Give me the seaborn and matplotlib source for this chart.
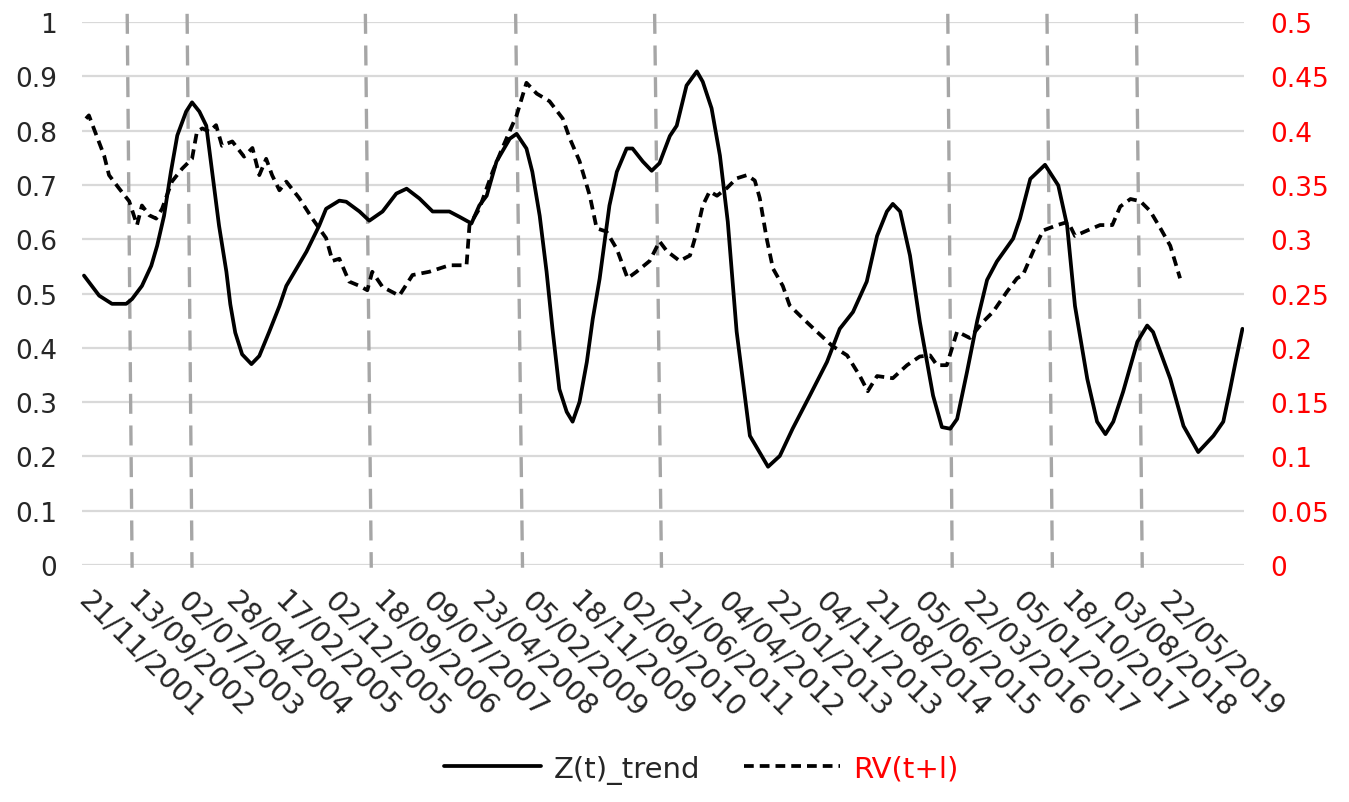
import matplotlib
matplotlib.use("Agg")
import matplotlib.pyplot as plt
import matplotlib.transforms as mtransforms
import seaborn as sns
from matplotlib.lines import Line2D

# x positions are in units of the date-label spacing (label k sits at x = k)
date_labels = [
    "21/11/2001", "13/09/2002", "02/07/2003", "28/04/2004", "17/02/2005",
    "02/12/2005", "18/09/2006", "09/07/2007", "23/04/2008", "05/02/2009",
    "18/11/2009", "02/09/2010", "21/06/2011", "04/04/2012", "22/01/2013",
    "04/11/2013", "21/08/2014", "05/06/2015", "22/03/2016", "05/01/2017",
    "18/10/2017", "03/08/2018", "22/05/2019",
]

z_x = [0.04, 0.35, 0.61, 0.90, 1.02, 1.22, 1.41, 1.53, 1.67, 1.81, 1.94, 2.12,
       2.24, 2.39, 2.53, 2.65, 2.79, 2.94, 3.02, 3.12, 3.26, 3.45, 3.61, 3.81,
       4.02, 4.16, 4.57, 4.83, 4.97, 5.24, 5.38, 5.65, 5.85, 6.12, 6.40, 6.61,
       6.87, 7.14, 7.48, 7.69, 7.93, 8.09, 8.24, 8.44, 8.71, 8.85, 9.05, 9.17,
       9.32, 9.46, 9.58, 9.72, 9.87, 9.99, 10.13, 10.28, 10.40, 10.54, 10.74,
       10.89, 11.09, 11.21, 11.42, 11.60, 11.76, 11.97, 12.11, 12.31, 12.52,
       12.64, 12.82, 12.99, 13.15, 13.33, 13.60, 13.97, 14.21, 14.47, 14.82,
       15.17, 15.43, 15.70, 15.98, 16.19, 16.39, 16.51, 16.66, 16.86, 17.06,
       17.33, 17.51, 17.68, 17.82, 18.02, 18.23, 18.43, 18.63, 18.96, 19.10,
       19.31, 19.61, 19.88, 20.06, 20.22, 20.47, 20.67, 20.84, 21.00, 21.20,
       21.49, 21.69, 21.81, 22.16, 22.43, 22.73, 23.04, 23.24, 23.38, 23.49,
       23.63]
z_trend = [0.533, 0.496, 0.481, 0.481, 0.490, 0.514, 0.551, 0.588, 0.643, 0.724,
           0.791, 0.835, 0.852, 0.835, 0.809, 0.724, 0.625, 0.540, 0.480, 0.428,
           0.388, 0.370, 0.385, 0.429, 0.477, 0.514, 0.577, 0.625, 0.656, 0.671,
           0.669, 0.651, 0.634, 0.651, 0.684, 0.693, 0.675, 0.651, 0.651, 0.641,
           0.629, 0.662, 0.680, 0.743, 0.785, 0.794, 0.767, 0.724, 0.643, 0.540,
           0.435, 0.324, 0.282, 0.264, 0.300, 0.374, 0.453, 0.527, 0.662, 0.724,
           0.767, 0.767, 0.743, 0.726, 0.740, 0.790, 0.809, 0.883, 0.909, 0.890,
           0.841, 0.754, 0.632, 0.430, 0.238, 0.181, 0.201, 0.251, 0.312, 0.374,
           0.435, 0.466, 0.522, 0.606, 0.651, 0.665, 0.651, 0.570, 0.448, 0.312,
           0.254, 0.251, 0.269, 0.355, 0.450, 0.525, 0.559, 0.601, 0.638, 0.711,
           0.737, 0.699, 0.625, 0.477, 0.343, 0.264, 0.241, 0.264, 0.319, 0.411,
           0.441, 0.429, 0.343, 0.256, 0.208, 0.238, 0.264, 0.324, 0.374, 0.435]

rv_x = [0.08, 0.14, 0.29, 0.45, 0.55, 0.75, 0.96, 1.12, 1.22, 1.37, 1.51, 1.63,
        1.83, 2.04, 2.24, 2.34, 2.45, 2.59, 2.73, 2.85, 3.06, 3.30, 3.47, 3.61,
        3.75, 3.87, 4.02, 4.16, 4.42, 4.69, 4.97, 5.10, 5.24, 5.44, 5.65, 5.81,
        5.91, 6.12, 6.46, 6.73, 7.07, 7.48, 7.83, 7.89, 8.09, 8.36, 8.56, 8.85,
        9.05, 9.26, 9.52, 9.79, 9.93, 10.13, 10.34, 10.48, 10.68, 10.89, 11.11,
        11.29, 11.56, 11.76, 11.91, 12.17, 12.38, 12.52, 12.64, 12.78, 12.93,
        13.13, 13.33, 13.54, 13.70, 13.80, 13.94, 14.07, 14.27, 14.41, 14.68,
        14.96, 15.27, 15.58, 15.84, 16.00, 16.19, 16.51, 16.80, 17.06, 17.27,
        17.41, 17.61, 17.82, 18.08, 18.35, 18.55, 18.84, 19.04, 19.16, 19.37,
        19.57, 19.86, 20.08, 20.22, 20.47, 20.73, 20.98, 21.14, 21.35, 21.55,
        21.75, 21.96, 22.16, 22.36]
rv = [0.411, 0.414, 0.396, 0.377, 0.359, 0.347, 0.335, 0.313, 0.331, 0.322,
      0.319, 0.328, 0.353, 0.365, 0.374, 0.399, 0.402, 0.399, 0.405, 0.386,
      0.390, 0.376, 0.384, 0.359, 0.374, 0.359, 0.345, 0.353, 0.338, 0.319,
      0.301, 0.280, 0.282, 0.261, 0.257, 0.253, 0.270, 0.256, 0.248, 0.267,
      0.270, 0.276, 0.276, 0.313, 0.328, 0.362, 0.384, 0.414, 0.444, 0.434,
      0.427, 0.411, 0.393, 0.372, 0.340, 0.310, 0.307, 0.291, 0.264, 0.270,
      0.280, 0.298, 0.289, 0.280, 0.285, 0.307, 0.331, 0.344, 0.340, 0.347,
      0.356, 0.359, 0.354, 0.338, 0.301, 0.273, 0.257, 0.239, 0.227, 0.215,
      0.202, 0.193, 0.174, 0.160, 0.174, 0.172, 0.184, 0.192, 0.193, 0.184,
      0.184, 0.215, 0.209, 0.224, 0.233, 0.252, 0.264, 0.267, 0.289, 0.308,
      0.313, 0.316, 0.303, 0.308, 0.313, 0.313, 0.330, 0.337, 0.335, 0.326,
      0.310, 0.294, 0.264]

# gray dashed event markers (hand-drawn in the original, slightly slanted)
event_top = [0.92, 2.14, 5.77, 8.83, 11.66, 17.63, 19.65, 21.47]
event_bottom = [1.02, 2.24, 5.89, 8.97, 11.80, 17.72, 19.76, 21.59]

sns.set_theme(style="white")
plt.rcParams["font.family"] = ["DejaVu Sans"]

fig = plt.figure(figsize=(13.49, 8.03), dpi=100)
ax = fig.add_axes([0.0608, 0.2951, 0.8613, 0.6763])
ax2 = ax.twinx()

# grid
ax.set_ylim(0, 1)
ax.set_yticks([i / 10 for i in range(11)])
ax.set_yticklabels(["0", "0.1", "0.2", "0.3", "0.4", "0.5", "0.6", "0.7", "0.8", "0.9", "1"])
ax.yaxis.grid(True, color="#d9d9d9", lw=1.6)
ax.xaxis.grid(False)
ax.set_axisbelow(True)

for xt, xb in zip(event_top, event_bottom):
    ax.plot([xt, xb], [1.015, -0.005], color="#a6a6a6", lw=2.4,
            ls=(0, (6, 3.5)), clip_on=False, zorder=1)

sns.lineplot(x=z_x, y=z_trend, ax=ax, color="black", lw=2.7, sort=False, zorder=3)
sns.lineplot(x=rv_x, y=rv, ax=ax2, color="black", lw=2.7, sort=False,
             linestyle=(0, (2.6, 1.6)), zorder=3)

ax2.set_ylim(0, 0.5)
ax2.set_yticks([i * 0.05 for i in range(11)])
ax2.set_yticklabels(["0", "0.05", "0.1", "0.15", "0.2", "0.25", "0.3", "0.35",
                     "0.4", "0.45", "0.5"])
ax2.grid(False)

for a in (ax, ax2):
    a.set_xlim(0, 23.66)
    for s in a.spines.values():
        s.set_visible(False)
    a.set_xlabel("")
    a.set_ylabel("")

ax.tick_params(axis="y", length=0, pad=18, labelsize=19, labelcolor="#262626")
ax2.tick_params(axis="y", length=0, pad=19, labelsize=19, labelcolor="#ff0000")

ax.set_xticks(range(len(date_labels)))
ax.set_xticklabels(date_labels, rotation=-45, ha="left", va="top",
                   rotation_mode="anchor", fontsize=20.5, color="#262626")
ax.tick_params(axis="x", length=0, pad=15)
shift = mtransforms.ScaledTranslation(0.11, 0, fig.dpi_scale_trans)
for lab in ax.get_xticklabels():
    lab.set_transform(lab.get_transform() + shift)

handles = [Line2D([], [], color="black", lw=2.7),
           Line2D([], [], color="black", lw=2.7, ls=(0, (2.6, 1.6)))]
leg = fig.legend(handles, ["Z(t)_trend", "RV(t+l)"], loc="center",
                 bbox_to_anchor=(0.52, 0.041), ncol=2, frameon=False,
                 fontsize=21, handlelength=3.3, columnspacing=1.5, handletextpad=0.45)
leg.get_texts()[0].set_color("#262626")
leg.get_texts()[1].set_color("#ff0000")

fig.savefig("out.png", dpi=100)
